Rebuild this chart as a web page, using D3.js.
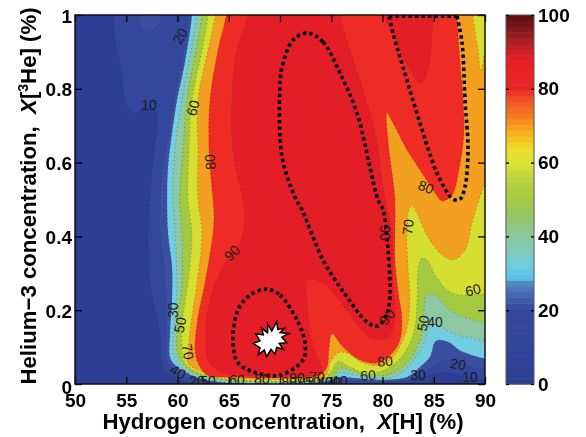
<!DOCTYPE html>
<html><head><meta charset="utf-8">
<script src="https://cdn.jsdelivr.net/npm/d3@7"></script>
<style>html,body{margin:0;padding:0;background:#fff}svg{display:block;filter:blur(0.35px)}text{font-family:"Liberation Sans",Arial,sans-serif}</style>
</head><body><div id="c"></div>
<script>
// ---- values ----
const xTicks=[50,55,60,65,70,75,80,85,90];
const yTicks=[0,0.2,0.4,0.6,0.8,1];
const barTicks=[0,20,40,60,80,100];
const bandColors=["#2c3f95","#33479c","#3a4fa2","#73cde0","#8cc8a4","#a2c93f","#d6de30","#f39f1f","#ef2b25","#e31e26"];
const level10=[[54.59,1.05],[54.59,.832],[55.07,.751],[55.85,.734],[56.63,.748],[57.32,.753],[58,.734],[57.61,.607],[57.32,.499],[57.12,.409],[57.32,.274],[58.29,.138],[58.59,.046],[59.56,.019],[61.22,.005],[71.95,.003],[81.71,.005],[83.66,.016],[85.61,.03],[87.37,.027],[92,.019],[92,1.05]];
const lens20=[[56.15,1.05],[56.15,1],[56.44,.97],[57.12,.954],[57.9,.967],[58.59,1],[58.59,1.05]];
const level20=[[61.12,1.05],[61.12,1],[60.34,.859],[59.66,.77],[59.17,.68],[58.59,.588],[58.29,.499],[58.29,.409],[58.68,.317],[58.88,.228],[58.88,.138],[58.98,.065],[60.05,.03],[62.2,.011],[72,.004],[75.5,.009],[80,.007],[81.71,.008],[83.66,.024],[85.12,.051],[86.1,.065],[87.56,.057],[92,.043],[92,1.05]];
const level30=[[61.41,1.05],[61.41,1],[60.63,.859],[59.95,.77],[59.46,.68],[59.07,.588],[58.98,.499],[59.07,.409],[59.46,.317],[59.46,.228],[59.27,.138],[59.37,.065],[60.93,.03],[63.17,.008],[73.9,.005],[74.88,.011],[75.85,.019],[77.12,.016],[80.05,.011],[82.39,.019],[83.66,.046],[84.63,.073],[85.12,.114],[85.61,.119],[86.59,.111],[87.85,.087],[92,.079],[92,1.05]];
const level40=[[61.9,1.05],[61.9,1],[61.32,.905],[60.44,.77],[59.76,.634],[59.56,.499],[59.76,.409],[59.95,.274],[59.76,.182],[59.56,.092],[60.05,.057],[61.22,.027],[63.66,.008],[73.9,.007],[75.37,.016],[75.85,.03],[76.83,.027],[79.07,.016],[81.02,.019],[82.39,.043],[83.37,.079],[84.15,.119],[84.44,.154],[85.32,.16],[86.59,.141],[88.24,.127],[92,.125],[92,1.05]];
const level50=[[62.39,1.05],[62.39,1],[61.8,.905],[60.93,.77],[60.54,.634],[60.24,.499],[60.44,.409],[60.44,.274],[60.05,.182],[59.95,.092],[60.44,.057],[61.71,.03],[64.15,.012],[73.9,.009],[75.07,.016],[75.85,.043],[76.83,.038],[78.1,.024],[79.76,.022],[81.02,.03],[82.39,.057],[83.37,.1],[83.95,.154],[84.05,.2],[84.34,.241],[85.12,.241],[86.59,.2],[88.24,.179],[92,.173],[92,1.05]];
const level60=[[62.98,1.05],[62.98,1],[62.39,.905],[61.41,.77],[61.12,.634],[61.02,.499],[61.41,.409],[61.02,.274],[60.54,.182],[60.44,.092],[60.73,.057],[61.9,.033],[64.63,.014],[73.9,.011],[74.39,.016],[75.07,.038],[75.66,.06],[76.83,.046],[78.29,.03],[79.95,.035],[81.41,.06],[82.49,.1],[83.17,.154],[83.37,.228],[83.46,.309],[83.85,.341],[84.34,.336],[85.32,.287],[86.59,.249],[88.05,.241],[92,.274],[92,1.05]];
const level70=[[63.66,1.05],[63.66,1],[62.98,.905],[62,.77],[62,.634],[62,.499],[62.39,.409],[61.9,.274],[61.41,.182],[61.02,.092],[61.02,.057],[62.2,.035],[65.12,.017],[73.71,.014],[74.29,.016],[74.68,.033],[74.88,.057],[75.66,.084],[76.54,.084],[78.1,.057],[79.76,.051],[81.02,.073],[82,.119],[82.49,.165],[82.68,.228],[82.49,.317],[82.39,.409],[82.68,.48],[82.98,.48],[84.44,.398],[85.8,.35],[86.88,.336],[88.05,.363],[88.73,.436],[89.41,.499],[90.5,.593],[90.5,.75],[89.95,.892],[89.61,.846],[89.32,.905],[88.83,1],[88.83,1.05]];
const level80=[[64.73,1.05],[64.73,1],[63.95,.905],[63.17,.77],[63.07,.634],[63.46,.499],[63.56,.453],[63.46,.409],[62.68,.274],[62,.182],[61.71,.092],[62,.057],[62.88,.024],[64.83,.018],[73.12,.019],[73.9,.024],[74.59,.046],[74.78,.092],[75.07,.136],[76.15,.1],[77.8,.065],[79.46,.057],[80.54,.073],[81.61,.111],[81.9,.173],[81.51,.255],[81.22,.336],[81.22,.409],[81.22,.499],[81.02,.553],[80.54,.661],[80.44,.734],[81.12,.702],[82.39,.634],[83.66,.58],[85.12,.518],[85.8,.496],[86.78,.512],[87.46,.58],[87.95,.68],[87.85,.77],[87.56,.878],[87.27,1],[87.27,1.05]];
const level90=[[66.88,1.05],[66.88,1],[65.8,.905],[65.32,.77],[65.41,.634],[66.39,.499],[66.59,.453],[66.1,.382],[64.44,.317],[63.17,.228],[62.78,.138],[62.98,.065],[63.85,.038],[65.12,.026],[68.05,.022],[71.95,.022],[74.1,.03],[73.61,.073],[72.93,.138],[72.63,.228],[72.73,.282],[74.2,.274],[76.54,.2],[78.78,.127],[80.54,.127],[81.22,.182],[81.02,.282],[80.93,.409],[80.24,.499],[79.27,.68],[78.1,.797],[76.83,.905],[75.85,1],[75.85,1.05]];
const level90b=[[80.05,1.05],[80.05,1],[81.02,.951],[82,.886],[82.98,.837],[83.66,.816],[84.34,.843],[84.83,.951],[84.93,1],[84.93,1.05]];
const loopA=[[72.73,.951],[74.2,.927],[75.85,.843],[77.51,.734],[78.78,.588],[79.56,.499],[80.05,.472],[80.54,.363],[80.73,.236],[80.44,.192],[79.56,.157],[78.49,.168],[76.54,.236],[74.2,.336],[72.15,.472],[71.46,.507],[70.2,.615],[70,.816],[70.2,.859],[71.27,.932]];
const loopB=[[68.73,.257],[70,.241],[71.66,.173],[72.44,.111],[72.24,.065],[70,.024],[67.76,.03],[65.9,.057],[65.41,.119],[65.9,.2],[67.07,.241]];
const loopC=[[87.27,.997],[87.76,.924],[88.05,.77],[88.34,.634],[88.05,.534],[87.56,.501],[86.88,.501],[85.32,.572],[83.66,.707],[82,.859],[81.02,.951],[80.63,.997]];
const loopCTop=[[80.63,.997],[87.27,.997]];
const star=[[69.68,.169],[69.78,.148],[70.42,.151],[70,.139],[70.88,.137],[70.17,.127],[70.65,.112],[69.93,.11],[70.32,.094],[69.68,.099],[69.51,.081],[69.12,.094],[68.7,.074],[68.47,.092],[67.88,.079],[68.05,.098],[67.39,.11],[68.05,.117],[67.63,.136],[68.37,.133],[68.21,.151],[68.79,.139],[68.79,.163],[69.19,.144]];
const labelText=["20","10","60","80","90","30","50","70","40","20","50","60","80","90","70","80","70","50","40","20","10","80","60","30","20","10","40","50","60","70","90","90","80"];
const labelX=[60.24,57.22,61.51,63.17,65.32,59.56,60.24,61.02,60.05,61.9,62.98,65.8,68.24,71.66,73.61,70.88,72.24,73.22,74.39,75.17,75.85,80.24,78.59,83.46,87.37,88.54,85.12,83.95,88.83,82.49,80.24,80.44,84.24];
const labelY=[.943,.756,.748,.602,.355,.2,.16,.087,.033,.008,.008,.011,.014,.016,.019,.006,.006,.006,.006,.006,.008,.062,.024,.024,.054,.019,.168,.165,.255,.425,.409,.182,.534];
const labelAngle=[-60,0,-75,-95,-45,-90,-80,80,30,0,0,0,0,0,0,0,0,0,0,0,0,-5,-5,0,10,0,0,-80,-15,-85,90,-50,20];
const barStops=[0,10,20,22,25,27,29,32,35,40,45,50,55,60,64,67,70,72,78,80,85,88,92,95,100];
const barColors=["#2b3f94","#324599","#34489c","#3d55a5","#4f6fb4","#4d7fbd","#55c3ea","#72cbdd","#7accc4","#86c8a0","#93c66a","#a3c83f","#b8d23c","#dde234","#ecde2a","#f7bb1d","#f6a01c","#f58020","#ef4b25","#e5252a","#ed2024","#e51f26","#b5202a","#8c1c1f","#5c0d0e"];
const barSteps=d3.range(0,100,100/64);

// ---- scales ----
const W=586,H=437;
const x=d3.scaleLinear().domain([50,90]).range([75,485]);
const y=d3.scaleLinear().domain([0,1]).range([384,15]);
const barY=d3.scaleLinear().domain([0,100]).range([384,15]);
const barColor=d3.scaleLinear().domain(barStops).range(barColors);

const svg=d3.select("#c").append("svg").attr("width",W).attr("height",H);
svg.append("clipPath").attr("id","plot").append("rect").attr("x",x(50)).attr("y",y(1)).attr("width",x(90)-x(50)).attr("height",y(0)-y(1));
const closed=d3.line().x(d=>x(d[0])).y(d=>y(d[1])).curve(d3.curveCatmullRomClosed.alpha(0.5));
const open=d3.line().x(d=>x(d[0])).y(d=>y(d[1])).curve(d3.curveCatmullRom.alpha(0.5));
const straight=d3.line().x(d=>x(d[0])).y(d=>y(d[1])).curve(d3.curveLinearClosed);

const g=svg.append("g").attr("clip-path","url(#plot)");
g.append("rect").attr("x",x(50)).attr("y",y(1)).attr("width",x(90)-x(50)).attr("height",y(0)-y(1)).attr("fill",bandColors[0]);
const regions=[[level10,1],[level20,2],[lens20,2],[level30,3],[level40,4],[level50,5],[level60,6],[level70,7],[level80,8],[level90,9],[level90b,9]];
g.selectAll("path.band").data(regions).join("path").attr("class","band").attr("d",d=>closed(d[0])).attr("fill",d=>bandColors[d[1]])
 .attr("stroke","#2a2a2a").attr("stroke-opacity",.65).attr("stroke-width",.7).attr("stroke-dasharray","1 3.2");

// thick dotted loops
const dots=sel=>sel.attr("fill","none").attr("stroke","#000").attr("stroke-width",3.6).attr("stroke-dasharray","3.4 3.1");
g.append("path").attr("d",closed(loopA)).call(dots);
g.append("path").attr("d",closed(loopB)).call(dots);
g.append("path").attr("d",open(loopC)).call(dots);
g.append("path").attr("d",d3.line().x(d=>x(d[0])).y(d=>y(d[1]))(loopCTop)).call(dots);

// burst
g.append("path").attr("d",straight(star)).attr("fill","#fff").attr("stroke","#000").attr("stroke-width",1.5).attr("stroke-linejoin","miter");

// contour labels
g.selectAll("text.lab").data(labelText).join("text").attr("class","lab")
 .attr("transform",(d,i)=>`translate(${x(labelX[i])},${y(labelY[i])}) rotate(${labelAngle[i]})`)
 .attr("text-anchor","middle").attr("dy","0.36em").attr("font-size",14).attr("fill","#1c1c1c").text(d=>d);

// axes
const tickFont=sel=>{sel.selectAll("text").attr("font-size",19).attr("font-weight","bold").attr("fill","#000").style("font-family",'"Liberation Sans",Arial,sans-serif');sel.select(".domain").remove();sel.selectAll("line").attr("stroke","#000").attr("stroke-width",1.3);};
svg.append("g").attr("transform",`translate(0,${y(0)})`).call(d3.axisBottom(x).tickValues(xTicks).tickFormat(d=>d).tickSize(-7).tickPadding(10)).call(tickFont);
svg.append("g").attr("transform",`translate(0,${y(1)})`).call(d3.axisTop(x).tickValues(xTicks).tickFormat("").tickSize(-7)).call(tickFont);
const leftAxis=svg.append("g").attr("transform",`translate(${x(50)},0)`).call(d3.axisLeft(y).tickValues(yTicks).tickFormat(d=>d).tickSize(-7).tickPadding(3)).call(tickFont);
leftAxis.selectAll(".tick text").attr("dy",d=>d===0?"0.52em":d===1?"0.42em":"0.36em");
svg.append("g").attr("transform",`translate(${x(90)},0)`).call(d3.axisRight(y).tickValues(yTicks).tickFormat("").tickSize(-7)).call(tickFont);
svg.append("rect").attr("x",x(50)).attr("y",y(1)).attr("width",x(90)-x(50)).attr("height",y(0)-y(1)).attr("fill","none").attr("stroke","#111").attr("stroke-width",1.5);

// colour bar
const barX0=506,barX1=534;
const step=barSteps[1]-barSteps[0];
svg.append("g").selectAll("rect").data(barSteps).join("rect").attr("x",barX0).attr("width",barX1-barX0)
 .attr("y",d=>barY(d+step)).attr("height",d=>barY(d)-barY(d+step)+.5).attr("fill",d=>barColor(d+step/2));
svg.append("rect").attr("x",barX0).attr("y",barY(100)).attr("width",barX1-barX0).attr("height",barY(0)-barY(100)).attr("fill","none").attr("stroke","#555").attr("stroke-width",1);
svg.append("g").attr("transform",`translate(${barX1},0)`).call(d3.axisRight(barY).tickValues(barTicks).tickFormat(d=>d).tickSize(-3).tickPadding(4)).call(tickFont);
svg.append("g").attr("transform",`translate(${barX0},0)`).call(d3.axisLeft(barY).tickValues(barTicks).tickFormat("").tickSize(-3)).call(tickFont);

// titles
const xt=svg.append("text").attr("x",283).attr("y",429).attr("text-anchor","middle").attr("font-size",22.2).attr("font-weight","bold").attr("fill","#000");
xt.append("tspan").text("Hydrogen concentration,\u00a0\u00a0");
xt.append("tspan").attr("font-style","italic").text("X");
xt.append("tspan").text("[H] (%)");
const yt=svg.append("text").attr("transform",`translate(36,196) rotate(-90)`).attr("text-anchor","middle").attr("font-size",22.2).attr("font-weight","bold").attr("fill","#000");
yt.append("tspan").text("Helium\u22123 concentration,\u00a0\u00a0");
yt.append("tspan").attr("font-style","italic").text("X");
yt.append("tspan").text("[");
yt.append("tspan").attr("dy",-8).attr("font-size",14).text("3");
yt.append("tspan").attr("dy",8).text("He] (%)");
</script></body></html>
